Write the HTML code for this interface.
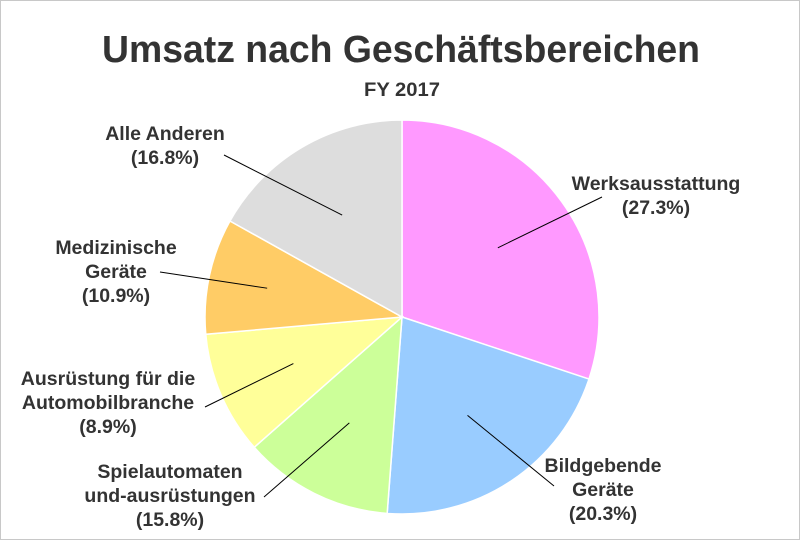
<!DOCTYPE html>
<html><head><meta charset="utf-8"><style>
html,body{margin:0;padding:0;background:#fff}
svg{display:block;font-family:"Liberation Sans",sans-serif}
</style></head><body>
<svg id="chart" width="800" height="540" viewBox="0 0 800 540">
<rect x="0.5" y="0.5" width="799" height="539" fill="#fff" stroke="#c8c8c8"/>
<text x="401" y="62" text-anchor="middle" font-size="38" font-weight="bold" fill="#333" textLength="598" lengthAdjust="spacingAndGlyphs">Umsatz nach Geschäftsbereichen</text>
<text x="402" y="96" text-anchor="middle" font-size="19" font-weight="bold" fill="#333" textLength="76" lengthAdjust="spacingAndGlyphs">FY 2017</text>
<g id="slices"></g>
<g id="labels"></g>
</svg>
<script>
const categories = ["Werksausstattung","Bildgebende Geräte","Spielautomaten und-ausrüstungen","Ausrüstung für die Automobilbranche","Medizinische Geräte","Alle Anderen"];
const values = [30.1, 21.1, 12.3, 10.1, 9.5, 16.9];
const printedPercents = ["27.3%","20.3%","15.8%","8.9%","10.9%","16.8%"];
const colors = ["#ff99ff","#99ccff","#ccff99","#ffff99","#ffcc66","#dddddd"];
const labelLines = [["Werksausstattung","(27.3%)"],["Bildgebende","Geräte","(20.3%)"],["Spielautomaten","und-ausrüstungen","(15.8%)"],["Ausrüstung für die","Automobilbranche","(8.9%)"],["Medizinische","Geräte","(10.9%)"],["Alle Anderen","(16.8%)"]];
const cx=402, cy=317, r=197;
const NS="http://www.w3.org/2000/svg";
const total=values.reduce((a,b)=>a+b,0);
function pt(frac,rad){const a=frac*2*Math.PI;return [cx+rad*Math.sin(a), cy-rad*Math.cos(a)];}
const layout=[
 {lx:656,ly:190,anchor:"middle",ex:602,ey:197,ir:0.6},
 {lx:603,ly:472,anchor:"middle",ex:554,ey:486,ir:0.6},
 {lx:170,ly:478,anchor:"middle",ex:264,ey:497,ir:0.6},
 {lx:108,ly:385,anchor:"middle",ex:205,ey:407,ir:0.6},
 {lx:116,ly:254,anchor:"middle",ex:160,ey:272,ir:0.7},
 {lx:165,ly:140,anchor:"middle",ex:224,ey:155,ir:0.6}
];
const gS=document.getElementById('slices'), gL=document.getElementById('labels');
let acc=0;
values.forEach((v,i)=>{
 const f0=acc/total, f1=(acc+v)/total; acc+=v;
 const [x0,y0]=pt(f0,r),[x1,y1]=pt(f1,r);
 const large=(f1-f0)>0.5?1:0;
 const p=document.createElementNS(NS,'path');
 p.setAttribute('d',`M${cx},${cy}L${x0},${y0}A${r},${r} 0 ${large} 1 ${x1},${y1}Z`);
 p.setAttribute('fill',colors[i]);p.setAttribute('stroke','#fff');p.setAttribute('stroke-width','1.5');
 
 
 gS.appendChild(p);
 const L=layout[i];
 const [mx,my]=pt((f0+f1)/2, r*L.ir);
 const ln=document.createElementNS(NS,'line');
 ln.setAttribute('x1',mx);ln.setAttribute('y1',my);ln.setAttribute('x2',L.ex);ln.setAttribute('y2',L.ey);
 ln.setAttribute('stroke','#000');ln.setAttribute('stroke-width','1');
 
 
 gL.appendChild(ln);
 const t=document.createElementNS(NS,'text');
 t.setAttribute('text-anchor',L.anchor);t.setAttribute('font-size','19.5');t.setAttribute('font-weight','bold');t.setAttribute('fill','#333');
 
 
 labelLines[i].forEach((s,k)=>{
  const ts=document.createElementNS(NS,'tspan');
  ts.setAttribute('x',L.lx);ts.setAttribute('y',L.ly+k*24);ts.textContent=s;
  t.appendChild(ts);
 });
 gL.appendChild(t);
});
</script>
</body></html>
